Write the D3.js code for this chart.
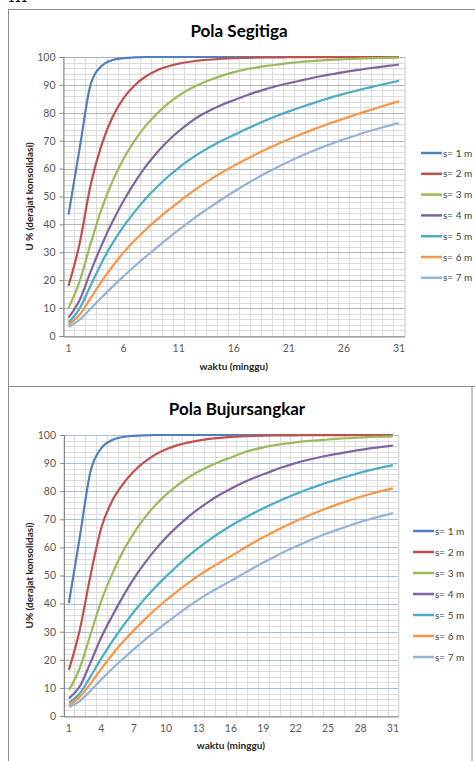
<!DOCTYPE html>
<html>
<head>
<meta charset="utf-8">
<script src="https://cdn.jsdelivr.net/npm/d3@7"></script>
<style>
  body { margin: 0; background: #fff; }
  svg text { font-family: Lato, "Open Sans", sans-serif; }
</style>
</head>
<body>
<div id="chart"></div>
<script>
// categories (minggu)
var weeks = [1,2,3,4,5,6,7,8,9,10,11,12,13,14,15,16,17,18,19,20,21,22,23,24,25,26,27,28,29,30,31];
var yTicks = [0,10,20,30,40,50,60,70,80,90,100];
var segTicks = [1,6,11,16,21,26,31];
var bujTicks = [1,4,7,10,13,16,19,22,25,28,31];
var legendLabels = ["s= 1 m","s= 2 m","s= 3 m","s= 4 m","s= 5 m","s= 6 m","s= 7 m"];

// Pola Segitiga, U %
var seg1 = [43.5,67,90,96.8,98.9,99.6,99.9,100,100,100,100,100,100,100,100,100,100,100,100,100,100,100,100,100,100,100,100,100,100,100,100];
var seg2 = [18,33,54,68.5,78.5,85.3,89.8,93,95.2,96.6,97.6,98.3,98.8,99.1,99.4,99.6,99.7,99.78,99.84,99.88,99.92,99.94,99.96,99.97,99.98,99.98,99.99,99.99,100,100,100];
var seg3 = [10,19.5,33,45.5,55.5,63.5,70,75.3,79.6,83.2,86.1,88.5,90.4,92,93.4,94.6,95.5,96.2,96.8,97.3,97.8,98.2,98.5,98.8,99,99.2,99.35,99.5,99.6,99.7,99.75];
var seg4 = [6.6,12.8,23,32.5,41,48.5,55,60.7,65.6,69.8,73.4,76.5,79.1,81.2,83,84.5,86,87.4,88.6,89.7,90.6,91.5,92.4,93.2,93.9,94.6,95.2,95.8,96.3,96.8,97.3];
var seg5 = [4.8,9.8,18,26.2,33.3,39.3,44.5,49.2,53.3,57,60.3,63.2,65.8,68.1,70.2,72,73.9,75.7,77.4,79,80.5,81.9,83.2,84.5,85.7,86.8,87.8,88.8,89.7,90.6,91.5];
var seg6 = [4,7.6,13.5,19.5,25,29.9,34.2,38.1,41.6,44.9,48,51,53.8,56.4,58.8,61,63.1,65.1,67,68.8,70.5,72.1,73.7,75.2,76.6,77.9,79.2,80.5,81.7,83,84.2];
var seg7 = [3.3,5.8,9.8,13.8,17.7,21.4,25,28.4,31.7,34.9,38,41,43.9,46.6,49.2,51.7,54.1,56.4,58.6,60.6,62.5,64.3,66,67.6,69.1,70.5,71.8,73.1,74.2,75.3,76.3];

// Pola Bujursangkar, U %
var buj1 = [40.2,63.5,87,95.3,98.2,99.3,99.7,99.9,100,100,100,100,100,100,100,100,100,100,100,100,100,100,100,100,100,100,100,100,100,100,100];
var buj2 = [16.4,30.5,50,67,76.5,82.5,87,90.4,93,94.9,96.3,97.3,98,98.6,99,99.3,99.5,99.65,99.75,99.82,99.87,99.9,99.93,99.95,99.96,99.97,99.98,99.98,99.99,99.99,100];
var buj3 = [9.2,17,29,41,50.5,58.5,65,70.5,75,78.8,82,84.7,87,88.9,90.6,92,93.5,94.7,95.6,96.3,96.9,97.4,97.8,98.1,98.4,98.7,98.9,99.1,99.3,99.4,99.5];
var buj4 = [6.3,10.5,19,28,35.5,42.5,48.8,54.3,59.2,63.5,67.3,70.7,73.7,76.4,78.8,80.9,82.8,84.5,86,87.5,88.8,90,91,91.9,92.7,93.4,94.1,94.7,95.3,95.8,96.2];
var buj5 = [4.7,8,14,20.5,26.5,32,37,41.6,45.8,49.7,53.3,56.7,59.8,62.7,65.3,67.7,69.9,72,73.9,75.7,77.4,79,80.5,81.9,83.2,84.4,85.5,86.6,87.6,88.5,89.3];
var buj6 = [3.8,6.8,11.5,16.8,21.8,26.3,30.4,34.3,37.9,41.2,44.3,47.2,49.9,52.4,54.7,56.9,59.2,61.5,63.6,65.6,67.5,69.3,71,72.6,74.1,75.5,76.8,78,79.1,80.1,81];
var buj7 = [3.2,5.3,9,13,16.8,20.3,23.7,27,30.1,33.1,36,38.8,41.4,43.8,46,48.1,50.3,52.5,54.6,56.6,58.5,60.3,62,63.6,65.1,66.5,67.8,69.1,70.2,71.2,72.2];

var colors = ['#4F81BD','#C0504D','#9BBB59','#8064A2','#4BACC6','#F79646','#95B3D7'];

var svg = d3.select("#chart")
            .append('svg')
            .attr("width", 475)
            .attr("height", 761);

// small cut-off text on top of the page
svg.append('text')
  .attr('x', 8)
  .attr('y', 2)
  .attr('font-size', 11)
  .attr('font-weight', 'bold')
  .attr('fill', '#000')
  .text('111');

// chart boxes
svg.append('rect')
  .attr('x', 8.5).attr('y', 9.5)
  .attr('width', 480).attr('height', 377)
  .attr('fill', '#fff')
  .attr('stroke', '#8c8c8c');

svg.append('rect')
  .attr('x', 8.5).attr('y', 386.5)
  .attr('width', 463.5).attr('height', 390)
  .attr('fill', '#fff')
  .attr('stroke', '#8c8c8c');

function drawChart(cfg) {
  var g = svg.append('g');

  var x = d3.scaleBand()
    .domain(weeks)
    .range([cfg.left, cfg.right]);

  var y = d3.scaleLinear()
    .domain([0, 100])
    .range([cfg.bottom, cfg.top]);

  // minor horizontal grid (every 2)
  var minor = d3.range(0, 101, 2).filter(function(d){ return d % 10 != 0; });
  g.append('g').selectAll('line')
    .data(minor)
    .enter().append('line')
      .attr('x1', cfg.left).attr('x2', cfg.right)
      .attr('y1', function(d){ return Math.round(y(d)) + 0.5; })
      .attr('y2', function(d){ return Math.round(y(d)) + 0.5; })
      .attr('stroke', '#dcdcdc')
      .attr('stroke-width', 1);

  // vertical grid at category boundaries
  g.append('g').selectAll('line')
    .data(weeks)
    .enter().append('line')
      .attr('x1', function(d){ return Math.round(x(d)) + 0.5; })
      .attr('x2', function(d){ return Math.round(x(d)) + 0.5; })
      .attr('y1', cfg.top).attr('y2', cfg.bottom)
      .attr('stroke', '#dcdcdc');

  // plot area border
  g.append('rect')
    .attr('x', cfg.left + 0.5).attr('y', Math.round(cfg.top) + 0.5)
    .attr('width', cfg.right - cfg.left).attr('height', cfg.bottom - cfg.top)
    .attr('fill', 'none')
    .attr('stroke', '#c8c8c8');

  // major horizontal grid
  g.append('g').selectAll('line')
    .data(yTicks.slice(1))
    .enter().append('line')
      .attr('x1', cfg.left).attr('x2', cfg.right)
      .attr('y1', function(d){ return Math.round(y(d)) + 0.5; })
      .attr('y2', function(d){ return Math.round(y(d)) + 0.5; })
      .attr('stroke', cfg.majorColor)
      .attr('stroke-width', 1);

  // y axis
  var yAxis = g.append('g')
    .attr('transform', 'translate(' + (cfg.left + 0.5) + ',0)')
    .call(d3.axisLeft(y).tickValues(yTicks).tickSize(4).tickPadding(4));
  yAxis.selectAll('path, line').attr('stroke', '#868686');
  yAxis.selectAll('text')
    .attr('font-size', 10.5)
    .attr('fill', '#595959')
    .attr('font-family', 'Lato, sans-serif');

  // x axis
  var xAxis = g.append('g')
    .attr('transform', 'translate(0,' + (Math.round(cfg.bottom) + 0.5) + ')')
    .call(d3.axisBottom(x).tickValues(cfg.xTicks).tickSize(0).tickPadding(8));
  xAxis.select('.domain').attr('stroke', '#868686');
  xAxis.selectAll('text')
    .attr('font-size', 10.5)
    .attr('fill', '#595959')
    .attr('font-family', 'Lato, sans-serif');

  // lines
  var line = d3.line()
    .x(function(d, i){ return x(weeks[i]) + x.bandwidth() / 2; })
    .y(function(d){ return y(d); })
    .curve(d3.curveMonotoneX);

  g.append('g').selectAll('path')
    .data(cfg.series)
    .enter().append('path')
      .attr('d', function(d){ return line(d); })
      .attr('fill', 'none')
      .attr('stroke', function(d, i){ return colors[i]; })
      .attr('stroke-width', 2.2)
      .attr('stroke-linejoin', 'round');

  // title
  g.append('text')
    .attr('x', cfg.titleX)
    .attr('y', cfg.titleY)
    .attr('text-anchor', 'middle')
    .attr('font-size', 17)
    .attr('font-weight', 'bold')
    .attr('fill', '#000')
    .text(cfg.title);

  // axis titles
  g.append('text')
    .attr('x', (cfg.left + cfg.right) / 2)
    .attr('y', cfg.xTitleY)
    .attr('text-anchor', 'middle')
    .attr('font-size', 10)
    .attr('font-weight', 'bold')
    .attr('fill', '#262626')
    .text('waktu (minggu)');

  g.append('text')
    .attr('transform', 'translate(33,' + ((cfg.top + cfg.bottom) / 2) + ') rotate(-90)')
    .attr('text-anchor', 'middle')
    .attr('font-size', 10)
    .attr('font-weight', 'bold')
    .attr('fill', '#262626')
    .text(cfg.yTitle);

  // legend
  var leg = g.append('g').selectAll('g')
    .data(legendLabels)
    .enter().append('g')
      .attr('transform', function(d, i){ return 'translate(' + cfg.legX + ',' + (cfg.legY + i * cfg.legStep) + ')'; });

  leg.append('line')
    .attr('x1', 0).attr('x2', 21)
    .attr('y1', 0).attr('y2', 0)
    .attr('stroke', function(d, i){ return colors[i]; })
    .attr('stroke-width', 2.5);

  leg.append('text')
    .attr('x', 22)
    .attr('y', 3.5)
    .attr('font-size', 10)
    .attr('fill', '#404040')
    .text(function(d){ return d; });
}

drawChart({
  left: 63, right: 404.5, top: 57, bottom: 336,
  xTicks: segTicks,
  series: [seg1, seg2, seg3, seg4, seg5, seg6, seg7],
  majorColor: '#b4b4b4',
  title: 'Pola Segitiga', titleX: 239, titleY: 37,
  xTitleY: 370,
  yTitle: 'U % (derajat konsolidasi)',
  legX: 421, legY: 153, legStep: 20.8
});

drawChart({
  left: 63.5, right: 398.3, top: 435, bottom: 716,
  xTicks: bujTicks,
  series: [buj1, buj2, buj3, buj4, buj5, buj6, buj7],
  majorColor: '#a7bfde',
  title: 'Pola Bujursangkar', titleX: 237, titleY: 415,
  xTitleY: 749,
  yTitle: 'U% (derajat konsolidasi)',
  legX: 413, legY: 531, legStep: 21
});
</script>
</body>
</html>
